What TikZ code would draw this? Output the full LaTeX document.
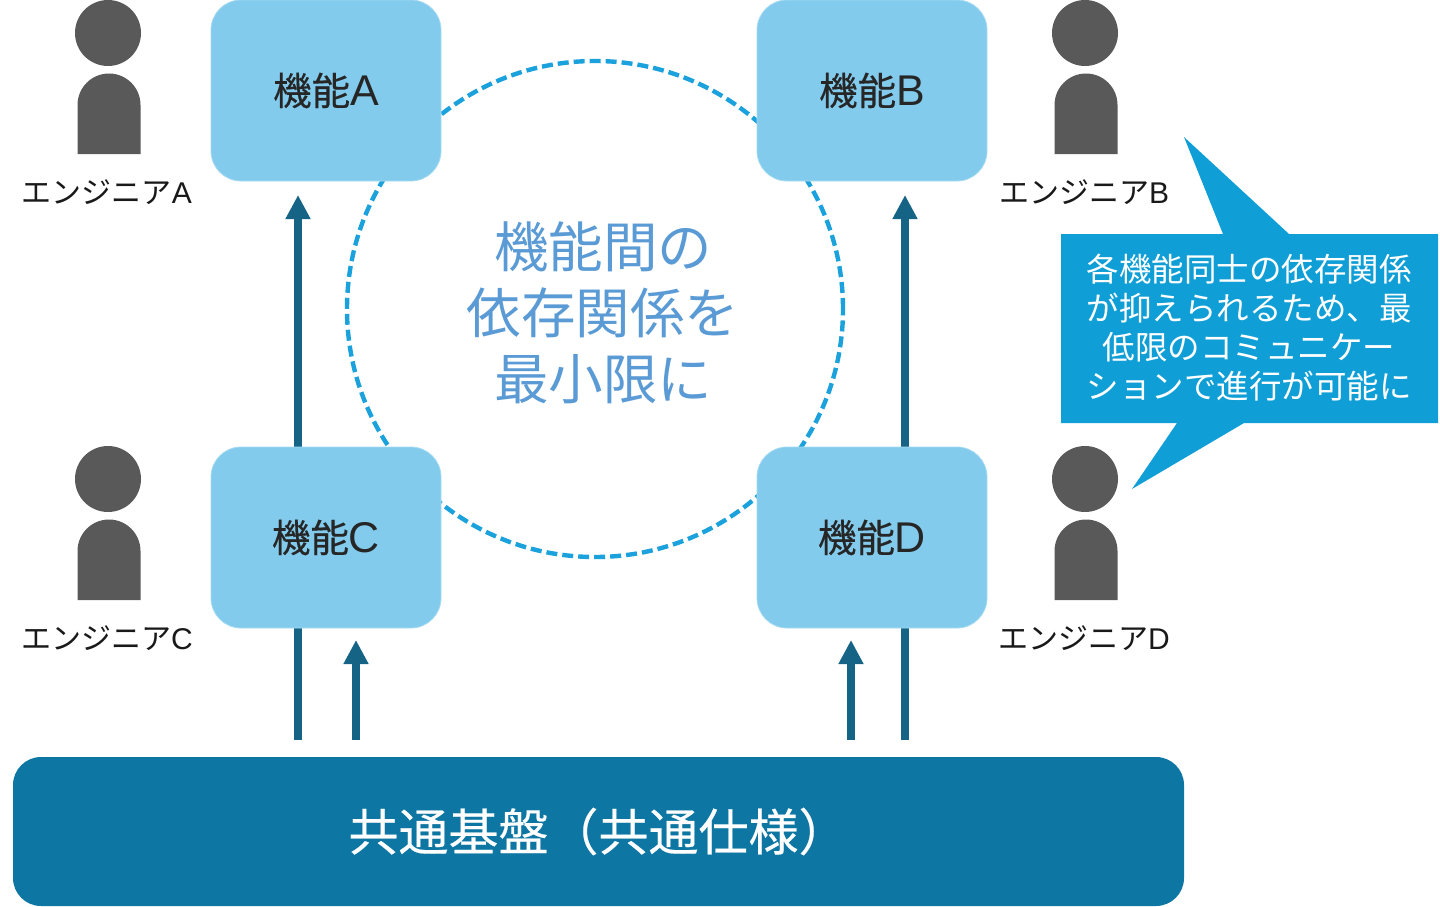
\documentclass[tikz,border=0pt]{standalone}
\usepackage{fontspec}
\setmainfont{Noto Sans CJK JP}
\newfontfamily\medfont[FakeBold=0.35]{Noto Sans CJK JP}
\newfontfamily\latfont{Liberation Sans}
\usepackage{xcolor}
\usetikzlibrary{arrows.meta}
\definecolor{boxblue}{HTML}{82CBEC}
\definecolor{flowblue}{HTML}{156385}
\definecolor{baseblue}{HTML}{0D76A3}
\definecolor{noteblue}{HTML}{0F9ED5}
\definecolor{dashblue}{HTML}{1BA1DC}
\definecolor{labelblue}{HTML}{5B9BD5}
\definecolor{persongray}{HTML}{595959}
\newcommand{\funcname}[1]{{\medfont 機能}{\fontsize{43}{43}\selectfont\latfont #1}}
\tikzset{
  funcbox/.style={fill=boxblue, draw=boxblue!70!white, line width=.8pt, rounded corners=30pt,
    minimum width=230pt, minimum height=181pt, text=black!85, font=\fontsize{38.5}{38.5}\selectfont},
  namelabel/.style={text=black!90, font=\fontsize{30}{30}\selectfont},
  flow/.style={flowblue, line width=8.5pt, -{Triangle[length=24pt,width=23.5pt]}}
}
\begin{document}
\begin{tikzpicture}[x=1pt,y=-1pt]
    \useasboundingbox (0,0) rectangle (1440,907);
    \def\ringshape{(595,309) circle (248pt)}

    \draw[dashblue, line width=4.4pt, dash pattern=on 11pt off 5pt] \ringshape;

    \coordinate (flowA) at (298,740);
    \coordinate (flowB) at (905,740);
    \coordinate (flowC) at (356,740);
    \coordinate (flowD) at (851,740);
    \coordinate (tipA) at (298,195);
    \coordinate (tipB) at (905,195);
    \coordinate (tipC) at (356,640);
    \coordinate (tipD) at (851,640);

    \draw[flow] (flowA) -- (tipA);
    \draw[flow] (flowB) -- (tipB);
    \draw[flow] (flowC) -- (tipC);
    \draw[flow] (flowD) -- (tipD);

    \node[funcbox] (funcA) at (326,90.5) {\funcname{A}};
    \node[funcbox] (funcB) at (872,90.5) {\funcname{B}};
    \node[funcbox] (funcC) at (326,537.5) {\funcname{C}};
    \node[funcbox] (funcD) at (872,537.5) {\funcname{D}};

    \node[fill=baseblue, rounded corners=28pt, minimum width=1171pt, minimum height=149pt,
      text=white, font=\fontsize{50}{50}\selectfont\medfont] (base) at (598.5,831.5) {共通基盤（共通仕様）};

    \node[text=labelblue, align=center, font=\fontsize{54.5}{66}\selectfont] (ringlabel) at (603,313)
      {機能間の\\依存関係を\\最小限に};

    % engineers
    \foreach \px/\py/\who in {108/0/A, 1085/0/B, 108/446/C, 1085/446/D}{
      \fill[persongray] (\px,\py+33) circle (33pt);
      \fill[persongray] (\px-30.5,\py+154) -- (\px-30.5,\py+105)
        arc[start angle=180, end angle=0, radius=31.5pt] -- (\px+32.5,\py+154) -- cycle;
      \node[namelabel] (name\who) at (\px-1,\py+192) {エンジニア{\latfont \who}};
    }

    % note
    \fill[noteblue] (1061,234) -- (1223,234) -- (1184,137) -- (1289,234) -- (1438,234)
      -- (1438,423) -- (1244,423) -- (1132,489) -- (1177,423) -- (1061,423) -- cycle;
    \node[text=white, align=center, font=\fontsize{32.5}{39}\selectfont] (notetext) at (1249,327.5)
      {各機能同士の依存関係\\が抑えられるため、最\\低限のコミュニケー\\ションで進行が可能に};
\end{tikzpicture}
\end{document}
